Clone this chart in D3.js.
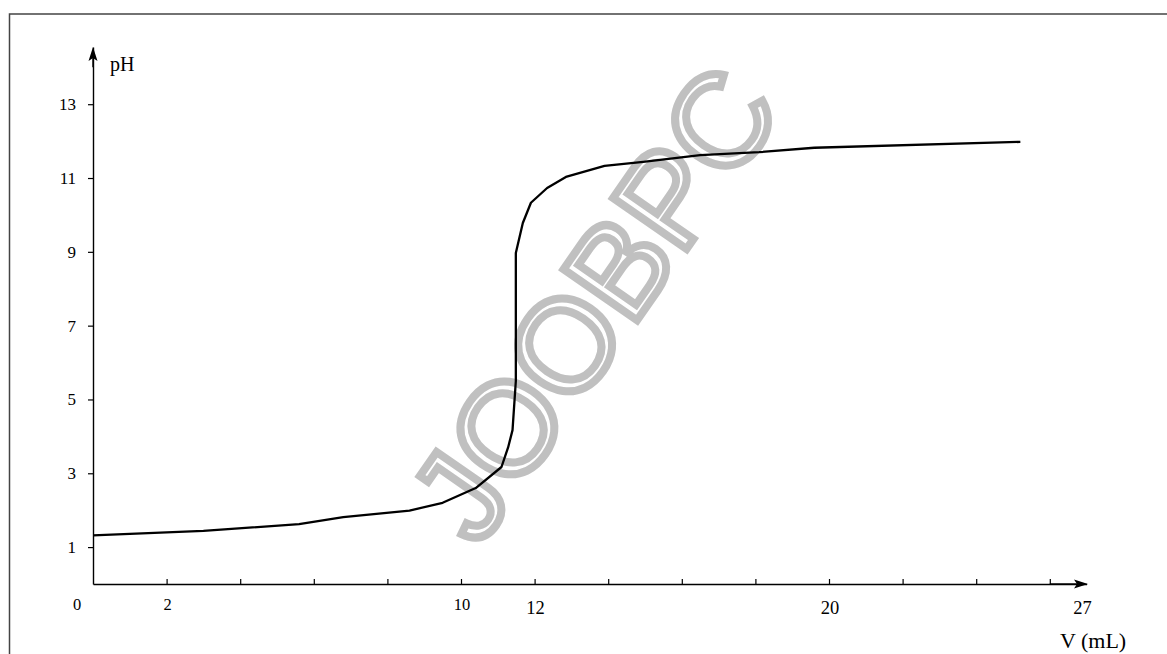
<!DOCTYPE html>
<html>
<head>
<meta charset="utf-8">
<script src="https://cdn.jsdelivr.net/npm/d3@7"></script>
<style>
  body { margin: 0; background: #fff; }
  svg { display: block; }
  .tick text { font-family: "Liberation Serif", "Times New Roman", serif; }
</style>
</head>
<body>
<script>
// titration curve
var volume = [0, 3.0, 5.6, 6.8, 8.6, 9.5, 10.4, 11.1, 11.28, 11.4, 11.49, 11.49, 11.68, 11.9, 12.34, 12.85, 13.9, 14.95, 16.5, 18.1, 19.6, 25.2];
var ph     = [1.32, 1.44, 1.62, 1.81, 1.99, 2.2, 2.6, 3.17, 3.7, 4.17, 5.5, 8.97, 9.78, 10.33, 10.73, 11.03, 11.33, 11.44, 11.62, 11.7, 11.82, 11.98];

var xTicks = [2, 4, 6, 8, 10, 12, 14, 16, 18, 20, 22, 24, 26];
var xLabels = [2, 10, 12, 20, 27];
var yTicks = [1, 3, 5, 7, 9, 11, 13];

var data = volume.map(function(v, i) { return {v: v, ph: ph[i]}; });

var serif = "'Liberation Serif', 'Times New Roman', serif";
var width = 1167, height = 654;
var svg = d3.select("body").append("svg").attr("width", width).attr("height", height);

// frame
svg.append("rect")
  .attr("x", 9.5).attr("y", 14)
  .attr("width", 1170).attr("height", 660)
  .attr("fill", "none").attr("stroke", "#444").attr("stroke-width", 1.5);

var x = d3.scaleLinear().domain([0, 27]).range([93, 1086.6]);
var y = d3.scaleLinear().domain([0, 14.55]).range([584, 47]);

// watermark
svg.append("text")
  .attr("transform", "translate(631,329) rotate(-55.2)")
  .attr("text-anchor", "middle")
  .style("font-family", "'Liberation Sans', Arial, sans-serif")
  .style("font-size", "130px")
  .attr("fill", "#fff")
  .attr("stroke", "#c0c0c0")
  .attr("stroke-width", 8)
  .attr("stroke-linejoin", "miter")
  .text("JOOBPC");

// x axis
var xAxis = d3.axisBottom(x).tickValues(xTicks).tickSize(-5).tickSizeOuter(0).tickFormat("");
var gx = svg.append("g").attr("transform", "translate(0," + y(0) + ")").call(xAxis);
gx.select(".domain").attr("stroke-width", 1.4);
gx.selectAll(".tick line").attr("stroke-width", 1.2);

gx.selectAll(".lbl")
  .data(xLabels)
  .enter().append("text")
  .attr("class", "lbl")
  .attr("x", function(d) { return x(d) + (d == 27 ? -4 : 1); })
  .attr("y", function(d) { return d >= 12 ? 30 : 26; })
  .attr("text-anchor", "middle")
  .style("font-family", serif)
  .style("font-size", function(d) { return d >= 12 ? "18.5px" : "16.5px"; })
  .attr("fill", "#000")
  .text(function(d) { return d; });

gx.append("text")
  .attr("x", x(0) - 16).attr("y", 26)
  .attr("text-anchor", "middle")
  .style("font-family", serif)
  .style("font-size", "16.5px")
  .attr("fill", "#000")
  .text("0");

// y axis
var yAxis = d3.axisLeft(y).tickValues(yTicks).tickSize(5).tickSizeOuter(0).tickPadding(12);
var gy = svg.append("g").attr("transform", "translate(" + x(0) + ",0)").call(yAxis);
gy.attr("font-family", serif);
gy.select(".domain").attr("stroke-width", 1.4);
gy.selectAll(".tick line").attr("stroke-width", 1.2);
gy.selectAll(".tick text").style("font-family", serif).style("font-size", "17px").attr("fill", "#000");

// extend axes to the arrow tips
svg.append("line").attr("x1", x(26)).attr("x2", 1080).attr("y1", y(0)).attr("y2", y(0))
  .attr("stroke", "#000").attr("stroke-width", 1.4);
svg.append("line").attr("x1", x(0)).attr("x2", x(0)).attr("y1", y(14)).attr("y2", 54)
  .attr("stroke", "#000").attr("stroke-width", 1.4);

// arrow heads
svg.append("path")
  .attr("d", "M1088," + y(0) + " L1074," + (y(0) - 4.5) + " L1077," + y(0) + " L1074," + (y(0) + 4.5) + " Z")
  .attr("fill", "#000");
svg.append("path")
  .attr("d", "M" + x(0) + ",47 L" + (x(0) - 4.5) + ",61 L" + x(0) + ",58 L" + (x(0) + 4.5) + ",61 Z")
  .attr("fill", "#000");

// axis names
svg.append("text").attr("x", 110).attr("y", 71)
  .style("font-family", serif)
  .style("font-size", "20px").text("pH");
svg.append("text").attr("x", 1060).attr("y", 648)
  .style("font-family", serif)
  .style("font-size", "22px").text("V (mL)");

// curve
var line = d3.line().x(function(d) { return x(d.v); }).y(function(d) { return y(d.ph); });
svg.append("path")
  .attr("d", line(data))
  .attr("fill", "none")
  .attr("stroke", "#000")
  .attr("stroke-width", 2.3)
  .attr("stroke-linejoin", "round");
</script>
</body>
</html>
